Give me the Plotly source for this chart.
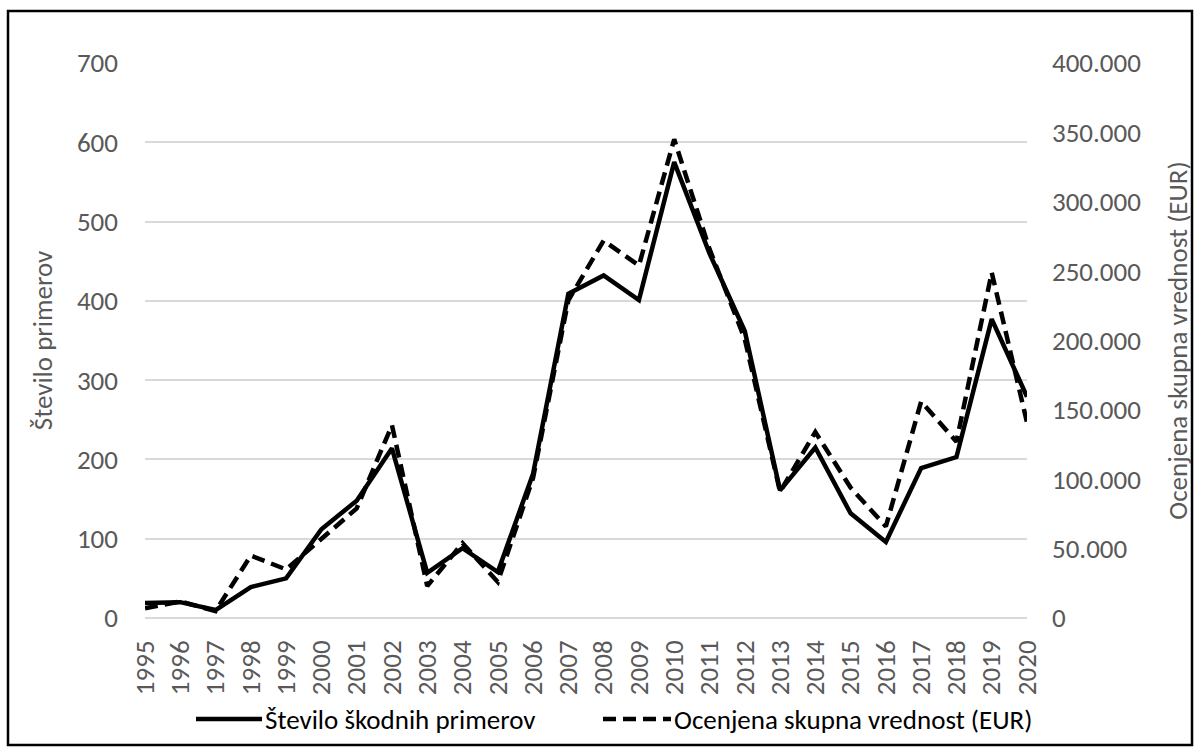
import plotly.graph_objects as go

# Annual series, 1995-2020
years = list(range(1995, 2021))
year_labels = [str(y) for y in years]
stevilo_primerov = [19, 20, 10, 39, 50, 112, 148, 214, 57, 88, 58, 182, 409,
                    432, 401, 575, 460, 362, 161, 215, 132, 96, 189, 203, 377, 279]
skupna_vrednost = [7000, 12000, 5000, 45000, 35000, 57000, 79000, 139000, 23000,
                   54000, 26000, 101000, 229000, 272000, 254000, 345000, 266000,
                   201000, 91000, 134000, 94000, 66000, 156000, 127000, 249000, 141000]
series_names = ["Število škodnih primerov", "Ocenjena skupna vrednost (EUR)"]

left_ticks = list(range(0, 701, 100))
right_ticks = list(range(0, 400001, 50000))

FONT = "Carlito, Calibri, Lato, sans-serif"
FS = 27
GREY = "#595959"
GRID = "#d9d9d9"
LINE_W = 4.5
DASH = "13px,7px"

W, H = 1200, 753
L, R, T, B = 145, 173, 63, 135
pw, ph = W - L - R, H - T - B


def px_x(x):
    return (x - L) / pw


def px_y(y):
    return (T + ph - y) / ph


fig = go.Figure()
fig.add_trace(go.Scatter(
    x=years, y=stevilo_primerov, mode="lines", name=series_names[0],
    line=dict(color="black", width=LINE_W),
))
fig.add_trace(go.Scatter(
    x=years, y=skupna_vrednost, mode="lines", yaxis="y2", name=series_names[1],
    line=dict(color="black", width=LINE_W, dash=DASH),
))

fig.update_layout(
    width=W, height=H,
    margin=dict(l=L, r=R, t=T, b=B),
    paper_bgcolor="white", plot_bgcolor="white",
    separators=",.",
    font=dict(family=FONT, size=FS, color=GREY),
    showlegend=False,
    xaxis=dict(
        range=[1995, 2020], tickvals=years, ticktext=year_labels,
        tickangle=-90, showgrid=False, zeroline=False,
        showline=False, ticks="", ticklen=0, ticklabelstandoff=16,
        tickfont=dict(size=FS, color=GREY),
    ),
    yaxis=dict(
        range=[0, 700], tickvals=left_ticks, showgrid=True,
        gridcolor=GRID, gridwidth=1.5, zeroline=True,
        zerolinecolor=GRID, zerolinewidth=1.5,
        showline=False, ticks="", ticklabelstandoff=26,
        title=dict(text="Število primerov", standoff=16,
                   font=dict(size=FS, color=GREY)),
        tickfont=dict(size=FS, color=GREY),
    ),
    yaxis2=dict(
        overlaying="y", side="right", range=[0, 400000],
        tickvals=right_ticks, tickformat=",d", showgrid=False,
        zeroline=False, showline=False, ticks="", ticklabelstandoff=24,
        title=dict(text="Ocenjena skupna vrednost (EUR)", standoff=28,
                   font=dict(size=FS, color=GREY)),
        tickfont=dict(size=FS, color=GREY),
    ),
)

# Legend drawn below the plot: line sample followed by the series name
legend_y = 719
legend_items = [
    (196, 262, None, series_names[0]),
    (603, 671, DASH, series_names[1]),
]
for x0, x1, dash, label in legend_items:
    fig.add_shape(
        type="line", xref="paper", yref="paper",
        x0=px_x(x0), x1=px_x(x1), y0=px_y(legend_y), y1=px_y(legend_y),
        line=dict(color="black", width=LINE_W, dash=dash),
    )
    fig.add_annotation(
        xref="paper", yref="paper", x=px_x(x1 + 1), y=px_y(legend_y),
        xanchor="left", yanchor="middle", showarrow=False,
        text=label, font=dict(family=FONT, size=FS, color="black"),
    )

# Outer frame of the chart area
fig.add_shape(
    type="rect", xref="paper", yref="paper",
    x0=px_x(8), x1=px_x(1192), y0=px_y(745), y1=px_y(11),
    line=dict(color="black", width=2.5), fillcolor="rgba(0,0,0,0)",
    layer="below",
)

fig.write_html("out.html")
